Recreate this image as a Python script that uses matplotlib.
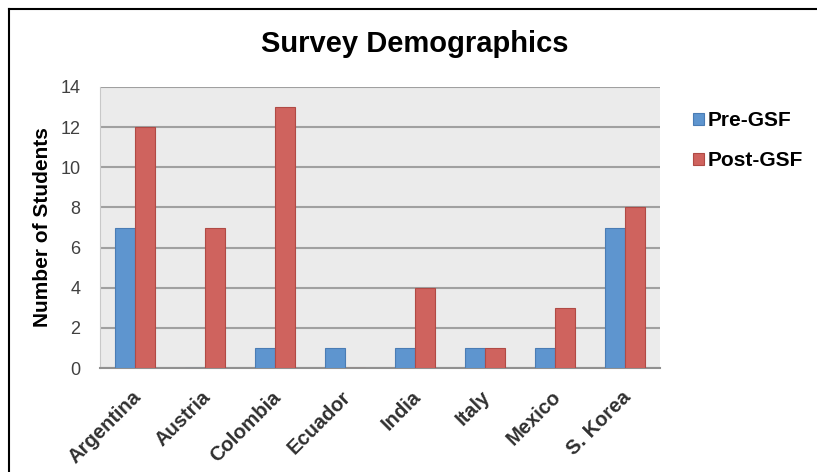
import matplotlib.pyplot as plt
import matplotlib.transforms as mtransforms
import numpy as np

countries = ["Argentina", "Austria", "Colombia", "Ecuador", "India", "Italy", "Mexico", "S. Korea"]
pre_gsf = [7, 0, 1, 1, 1, 1, 1, 7]
post_gsf = [12, 7, 13, 0, 4, 1, 3, 8]
y_ticks = [0, 2, 4, 6, 8, 10, 12, 14]

plt.rcParams['font.family'] = ['Liberation Sans', 'DejaVu Sans']

fig = plt.figure(figsize=(8.17, 4.72), dpi=100)
ax = fig.add_axes([0.1224, 0.2203, 0.6854, 0.5954])

x = np.arange(len(countries))
w = 0.29
ax.bar(x - w / 2, pre_gsf, w, color='#5e95cf', edgecolor='#4a7cb4', linewidth=0.8,
       label='Pre-GSF', zorder=3)
ax.bar(x + w / 2, post_gsf, w, color='#cf635e', edgecolor='#b04a45', linewidth=0.8,
       label='Post-GSF', zorder=3)

ax.set_facecolor('#ebebeb')
ax.set_xlim(-0.5, len(countries) - 0.5)
ax.set_ylim(0, 14)
ax.set_yticks(y_ticks)
ax.yaxis.grid(True, color='#a0a0a0', linewidth=1.5, zorder=1)
ax.set_axisbelow(True)
for s in ['top', 'right']:
    ax.spines[s].set_visible(False)
ax.spines['left'].set_color('#c8c8c8')
ax.spines['bottom'].set_color('#909090')
ax.spines['bottom'].set_linewidth(1.5)
ax.tick_params(axis='y', length=0, labelsize=13, colors='#404040', pad=14)
ax.tick_params(axis='x', length=0, pad=14)
ax.set_xticks(x)
ax.set_xticklabels(countries, rotation=45, ha='right', rotation_mode='anchor',
                   fontsize=14.5, fontweight='bold', color='#303030')
# nudge the rotated labels a few pixels left, like the reference
shift = mtransforms.ScaledTranslation(-4 / 100, 0, fig.dpi_scale_trans)
for lab in ax.get_xticklabels():
    lab.set_transform(lab.get_transform() + shift)
ax.set_ylabel("Number of Students", fontsize=15, fontweight='bold')
ax.yaxis.set_label_coords(-0.086, 0.5)

fig.text(0.508, 0.907, "Survey Demographics", ha='center', va='center',
         fontsize=21, fontweight='bold')

ax.legend(loc='upper left', bbox_to_anchor=(1.025, 0.98), frameon=False,
          prop={'size': 15, 'weight': 'bold'}, handlelength=0.55, handleheight=0.55,
          handletextpad=0.15, labelspacing=1.0)

# outer frame (left and top only, as in the reference crop)
fig.add_artist(plt.Line2D([0.011, 0.011], [0.0, 0.98], color='black', linewidth=1.5,
                          transform=fig.transFigure))
fig.add_artist(plt.Line2D([0.011, 1.0], [0.98, 0.98], color='black', linewidth=1.5,
                          transform=fig.transFigure))

fig.savefig("out.png", dpi=100)
